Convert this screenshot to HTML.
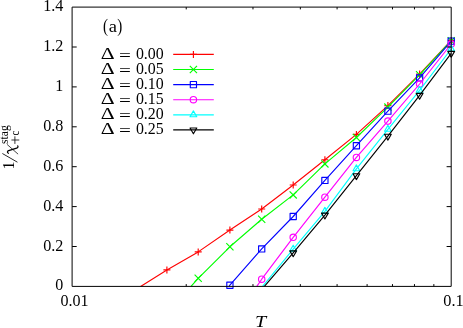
<!DOCTYPE html>
<html><head><meta charset="utf-8"><title>plot</title>
<style>
html,body{margin:0;padding:0;background:#fff;}
body{width:463px;height:328px;overflow:hidden;}
svg{display:block;}
text{font-family:"Liberation Serif",serif;fill:#000;}
.tx{opacity:0.999;}
</style></head><body>
<svg width="463" height="328" viewBox="0 0 463 328">
<rect x="0" y="0" width="463" height="328" fill="#fff"/>
<g class="tx">

<g stroke-width="1.15" stroke-linejoin="round" fill="none">
<path d="M451.20 40.40 L419.60 74.10 L387.90 105.60 L356.40 134.40 L324.90 159.70 L293.20 185.00 L261.70 209.00 L229.90 230.10 L198.20 251.90 L166.90 269.90 L140.60 286.40" stroke="#ff0000"/>
<path d="M447.70 40.40H454.70M451.20 36.90V43.90" stroke="#ff0000"/>
<path d="M416.10 74.10H423.10M419.60 70.60V77.60" stroke="#ff0000"/>
<path d="M384.40 105.60H391.40M387.90 102.10V109.10" stroke="#ff0000"/>
<path d="M352.90 134.40H359.90M356.40 130.90V137.90" stroke="#ff0000"/>
<path d="M321.40 159.70H328.40M324.90 156.20V163.20" stroke="#ff0000"/>
<path d="M289.70 185.00H296.70M293.20 181.50V188.50" stroke="#ff0000"/>
<path d="M258.20 209.00H265.20M261.70 205.50V212.50" stroke="#ff0000"/>
<path d="M226.40 230.10H233.40M229.90 226.60V233.60" stroke="#ff0000"/>
<path d="M194.70 251.90H201.70M198.20 248.40V255.40" stroke="#ff0000"/>
<path d="M163.40 269.90H170.40M166.90 266.40V273.40" stroke="#ff0000"/>
<path d="M451.20 40.70 L419.60 74.80 L387.90 107.10 L356.40 137.50 L324.90 163.90 L293.20 194.90 L261.70 219.30 L229.90 246.80 L198.20 278.30 L191.00 286.40" stroke="#00ff00"/>
<path d="M447.60 37.10L454.80 44.30M447.60 44.30L454.80 37.10" stroke="#00ff00"/>
<path d="M416.00 71.20L423.20 78.40M416.00 78.40L423.20 71.20" stroke="#00ff00"/>
<path d="M384.30 103.50L391.50 110.70M384.30 110.70L391.50 103.50" stroke="#00ff00"/>
<path d="M352.80 133.90L360.00 141.10M352.80 141.10L360.00 133.90" stroke="#00ff00"/>
<path d="M321.30 160.30L328.50 167.50M321.30 167.50L328.50 160.30" stroke="#00ff00"/>
<path d="M289.60 191.30L296.80 198.50M289.60 198.50L296.80 191.30" stroke="#00ff00"/>
<path d="M258.10 215.70L265.30 222.90M258.10 222.90L265.30 215.70" stroke="#00ff00"/>
<path d="M226.30 243.20L233.50 250.40M226.30 250.40L233.50 243.20" stroke="#00ff00"/>
<path d="M194.60 274.70L201.80 281.90M194.60 281.90L201.80 274.70" stroke="#00ff00"/>
<path d="M451.20 41.10 L419.60 77.90 L387.90 111.10 L356.40 145.70 L324.90 180.40 L293.20 216.50 L261.70 248.90 L229.90 285.20 L229.00 286.40" stroke="#0000ff"/>
<rect x="448.10" y="38.00" width="6.2" height="6.2" stroke="#0000ff"/>
<rect x="416.50" y="74.80" width="6.2" height="6.2" stroke="#0000ff"/>
<rect x="384.80" y="108.00" width="6.2" height="6.2" stroke="#0000ff"/>
<rect x="353.30" y="142.60" width="6.2" height="6.2" stroke="#0000ff"/>
<rect x="321.80" y="177.30" width="6.2" height="6.2" stroke="#0000ff"/>
<rect x="290.10" y="213.40" width="6.2" height="6.2" stroke="#0000ff"/>
<rect x="258.60" y="245.80" width="6.2" height="6.2" stroke="#0000ff"/>
<rect x="226.80" y="282.10" width="6.2" height="6.2" stroke="#0000ff"/>
<path d="M451.20 44.00 L419.60 84.00 L387.90 121.10 L356.40 157.40 L324.90 197.20 L293.20 237.30 L261.70 279.20 L256.80 286.40" stroke="#ff00ff"/>
<circle cx="451.20" cy="44.00" r="3.2" stroke="#ff00ff"/>
<circle cx="419.60" cy="84.00" r="3.2" stroke="#ff00ff"/>
<circle cx="387.90" cy="121.10" r="3.2" stroke="#ff00ff"/>
<circle cx="356.40" cy="157.40" r="3.2" stroke="#ff00ff"/>
<circle cx="324.90" cy="197.20" r="3.2" stroke="#ff00ff"/>
<circle cx="293.20" cy="237.30" r="3.2" stroke="#ff00ff"/>
<circle cx="261.70" cy="279.20" r="3.2" stroke="#ff00ff"/>
<path d="M451.20 49.00 L419.60 90.30 L387.90 129.30 L356.40 168.80 L324.90 211.30 L293.20 249.10 L262.60 286.40" stroke="#00ffff"/>
<path d="M451.20 45.10L454.58 50.95L447.82 50.95Z" stroke="#00ffff"/>
<path d="M419.60 86.40L422.98 92.25L416.22 92.25Z" stroke="#00ffff"/>
<path d="M387.90 125.40L391.28 131.25L384.52 131.25Z" stroke="#00ffff"/>
<path d="M356.40 164.90L359.78 170.75L353.02 170.75Z" stroke="#00ffff"/>
<path d="M324.90 207.40L328.28 213.25L321.52 213.25Z" stroke="#00ffff"/>
<path d="M293.20 245.20L296.58 251.05L289.82 251.05Z" stroke="#00ffff"/>
<path d="M451.20 53.30 L419.60 95.30 L387.90 136.20 L356.40 175.70 L324.90 215.10 L293.20 252.80 L264.40 286.40" stroke="#000000"/>
<path d="M451.20 57.20L454.58 51.35L447.82 51.35Z" stroke="#000000"/>
<path d="M419.60 99.20L422.98 93.35L416.22 93.35Z" stroke="#000000"/>
<path d="M387.90 140.10L391.28 134.25L384.52 134.25Z" stroke="#000000"/>
<path d="M356.40 179.60L359.78 173.75L353.02 173.75Z" stroke="#000000"/>
<path d="M324.90 219.00L328.28 213.15L321.52 213.15Z" stroke="#000000"/>
<path d="M293.20 256.70L296.58 250.85L289.82 250.85Z" stroke="#000000"/>
</g>
<g stroke-width="1.15" stroke-linejoin="round" fill="none">
<path d="M173.2 54.40H213.8" stroke="#ff0000"/>
<path d="M189.90 54.40H196.90M193.40 50.90V57.90" stroke="#ff0000"/>
<path d="M173.2 69.50H213.8" stroke="#00ff00"/>
<path d="M189.80 65.90L197.00 73.10M189.80 73.10L197.00 65.90" stroke="#00ff00"/>
<path d="M173.2 84.60H213.8" stroke="#0000ff"/>
<rect x="190.30" y="81.50" width="6.2" height="6.2" stroke="#0000ff"/>
<path d="M173.2 99.70H213.8" stroke="#ff00ff"/>
<circle cx="193.40" cy="99.70" r="3.2" stroke="#ff00ff"/>
<path d="M173.2 114.80H213.8" stroke="#00ffff"/>
<path d="M193.40 110.90L196.78 116.75L190.02 116.75Z" stroke="#00ffff"/>
<path d="M173.2 129.90H213.8" stroke="#000000"/>
<path d="M193.40 133.80L196.78 127.95L190.02 127.95Z" stroke="#000000"/>
</g>
<text x="100.7" y="58.70" font-size="17.4" textLength="13.9" lengthAdjust="spacingAndGlyphs">Δ</text>
<text x="118.9" y="60.70" font-size="16" textLength="11.9" lengthAdjust="spacingAndGlyphs">=</text>
<text x="135.9" y="58.90" font-size="16" textLength="27.8" lengthAdjust="spacingAndGlyphs">0.00</text>
<text x="100.7" y="73.80" font-size="17.4" textLength="13.9" lengthAdjust="spacingAndGlyphs">Δ</text>
<text x="118.9" y="75.80" font-size="16" textLength="11.9" lengthAdjust="spacingAndGlyphs">=</text>
<text x="135.9" y="74.00" font-size="16" textLength="27.8" lengthAdjust="spacingAndGlyphs">0.05</text>
<text x="100.7" y="88.90" font-size="17.4" textLength="13.9" lengthAdjust="spacingAndGlyphs">Δ</text>
<text x="118.9" y="90.90" font-size="16" textLength="11.9" lengthAdjust="spacingAndGlyphs">=</text>
<text x="135.9" y="89.10" font-size="16" textLength="27.8" lengthAdjust="spacingAndGlyphs">0.10</text>
<text x="100.7" y="104.00" font-size="17.4" textLength="13.9" lengthAdjust="spacingAndGlyphs">Δ</text>
<text x="118.9" y="106.00" font-size="16" textLength="11.9" lengthAdjust="spacingAndGlyphs">=</text>
<text x="135.9" y="104.20" font-size="16" textLength="27.8" lengthAdjust="spacingAndGlyphs">0.15</text>
<text x="100.7" y="119.10" font-size="17.4" textLength="13.9" lengthAdjust="spacingAndGlyphs">Δ</text>
<text x="118.9" y="121.10" font-size="16" textLength="11.9" lengthAdjust="spacingAndGlyphs">=</text>
<text x="135.9" y="119.30" font-size="16" textLength="27.8" lengthAdjust="spacingAndGlyphs">0.20</text>
<text x="100.7" y="134.20" font-size="17.4" textLength="13.9" lengthAdjust="spacingAndGlyphs">Δ</text>
<text x="118.9" y="136.20" font-size="16" textLength="11.9" lengthAdjust="spacingAndGlyphs">=</text>
<text x="135.9" y="134.40" font-size="16" textLength="27.8" lengthAdjust="spacingAndGlyphs">0.25</text>
<text x="103.0" y="31.70" font-size="19.5" textLength="5.0" lengthAdjust="spacingAndGlyphs">(</text>
<text x="108.7" y="31.80" font-size="17" textLength="8.2" lengthAdjust="spacingAndGlyphs">a</text>
<text x="117.3" y="31.70" font-size="19.5" textLength="5.0" lengthAdjust="spacingAndGlyphs">)</text>
<g stroke="#000" stroke-width="1" fill="none">
<path d="M72.1 7.1H451.2V286.4H72.1Z"/>
<path d="M72.1 246.50h4.6M451.2 246.50h-4.6"/>
<path d="M72.1 206.60h4.6M451.2 206.60h-4.6"/>
<path d="M72.1 166.70h4.6M451.2 166.70h-4.6"/>
<path d="M72.1 126.80h4.6M451.2 126.80h-4.6"/>
<path d="M72.1 86.90h4.6M451.2 86.90h-4.6"/>
<path d="M72.1 47.00h4.6M451.2 47.00h-4.6"/>
<path d="M186.22 286.4v-2.3M186.22 7.1v2.3"/>
<path d="M252.98 286.4v-2.3M252.98 7.1v2.3"/>
<path d="M300.34 286.4v-2.3M300.34 7.1v2.3"/>
<path d="M337.08 286.4v-2.3M337.08 7.1v2.3"/>
<path d="M367.10 286.4v-2.3M367.10 7.1v2.3"/>
<path d="M392.48 286.4v-2.3M392.48 7.1v2.3"/>
<path d="M414.46 286.4v-2.3M414.46 7.1v2.3"/>
<path d="M433.85 286.4v-2.3M433.85 7.1v2.3"/>
</g>
<text x="63.3" y="290.40" font-size="16" text-anchor="end">0</text>
<text x="43.2" y="250.50" font-size="16" textLength="20.2" lengthAdjust="spacingAndGlyphs">0.2</text>
<text x="43.2" y="210.60" font-size="16" textLength="20.2" lengthAdjust="spacingAndGlyphs">0.4</text>
<text x="43.2" y="170.70" font-size="16" textLength="20.2" lengthAdjust="spacingAndGlyphs">0.6</text>
<text x="43.2" y="130.80" font-size="16" textLength="20.2" lengthAdjust="spacingAndGlyphs">0.8</text>
<text x="63.3" y="90.90" font-size="16" text-anchor="end">1</text>
<text x="43.2" y="51.00" font-size="16" textLength="20.2" lengthAdjust="spacingAndGlyphs">1.2</text>
<text x="43.2" y="11.10" font-size="16" textLength="20.2" lengthAdjust="spacingAndGlyphs">1.4</text>
<text x="60.5" y="305.70" font-size="16" textLength="28.1" lengthAdjust="spacingAndGlyphs">0.01</text>
<text x="443.3" y="305.70" font-size="16" textLength="20.4" lengthAdjust="spacingAndGlyphs">0.1</text>
<text x="254.9" y="327.40" font-size="16" textLength="11.2" lengthAdjust="spacingAndGlyphs" font-style="italic">T</text>
<g transform="translate(13.8,169.5) rotate(-90)">
<text x="0" y="0.00" font-size="16">1</text>
<text x="25.6" y="-6.20" font-size="11.5" textLength="18.6" lengthAdjust="spacingAndGlyphs">stag</text>
<text x="34.1" y="4.70" font-size="11.5" textLength="4.8" lengthAdjust="spacingAndGlyphs">c</text>
</g>
<g stroke="#000" fill="none" stroke-linecap="round">
<path d="M17.1 162.0L2.7 153.7" stroke-width="0.85"/>
<path d="M7.4 144.7L17.8 153.9" stroke-width="0.75"/>
<path d="M8.4 153.3Q6.7 152.4 8.0 150.9L16.6 148.2Q18.5 147.4 17.8 145.9" stroke-width="1.25"/>
<path d="M14.9 136.7V143.5M11.8 140.0H18.9" stroke-width="0.8"/>
</g>
</g></svg></body></html>
